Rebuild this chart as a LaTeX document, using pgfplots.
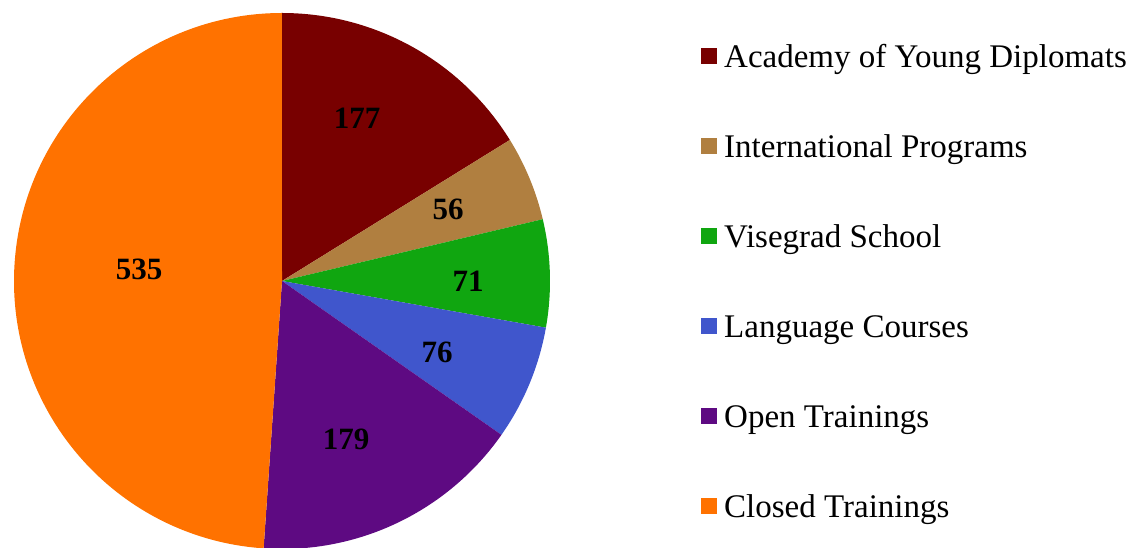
\documentclass[border=0pt]{standalone}
\usepackage{pgfplots}
\usepackage{pgfplotstable}
\pgfplotsset{compat=1.18}
\usepackage{fontspec}
\setmainfont{Liberation Serif}

\definecolor{c0}{RGB}{120,0,0}
\definecolor{c1}{RGB}{176,127,64}
\definecolor{c2}{RGB}{16,166,16}
\definecolor{c3}{RGB}{64,86,204}
\definecolor{c4}{RGB}{94,10,130}
\definecolor{c5}{RGB}{255,114,0}

\pgfplotstableread{
idx value
0 177
1 56
2 71
3 76
4 179
5 535
}\piedata

\begin{document}
\begin{tikzpicture}
\useasboundingbox (0,0) rectangle (1136pt,548pt);
% cumulative angles (clockwise from top)
\def\total{0}
\pgfplotsforeachungrouped \i in {0,...,5}{%
  \pgfplotstablegetelem{\i}{value}\of\piedata
  \pgfmathsetmacro\total{\total+\pgfplotsretval}%
}
\def\cur{90}
\pgfplotsforeachungrouped \i in {0,...,5}{%
  \pgfplotstablegetelem{\i}{value}\of\piedata
  \pgfmathsetmacro\nxt{\cur-(\pgfplotsretval/\total)*360}%
  \expandafter\xdef\csname sA\i\endcsname{\cur}%
  \expandafter\xdef\csname eA\i\endcsname{\nxt}%
  \global\let\cur\nxt
}
\begin{axis}[
  at={(0,0)}, anchor=south west,
  width=1136pt, height=548pt, scale only axis,
  xmin=0, xmax=1136, ymin=0, ymax=548,
  hide axis, clip=false,
  legend image code/.code={\fill[#1] (0pt,3pt) rectangle (16pt,19pt);},
  legend style={
    at={(axis cs:701,503)}, anchor=north west,
    draw=none, fill=none, inner sep=0pt,
    row sep=62pt, column sep=7pt,
    font=\fontsize{33}{38}\selectfont,
    nodes={inner sep=0pt, text height=22pt, text depth=6pt},
    cells={anchor=base west},
  },
]
\pgfplotsinvokeforeach{0,...,5}{%
  \fill[c#1] (axis cs:282,267) -- ++(\csname sA#1\endcsname:268pt)
    arc[start angle=\csname sA#1\endcsname, end angle=\csname eA#1\endcsname, radius=268pt] -- cycle;
}
\addlegendimage{fill=c0, draw=none}\addlegendentry{Academy of Young Diplomats}
\addlegendimage{fill=c1, draw=none}\addlegendentry{International Programs}
\addlegendimage{fill=c2, draw=none}\addlegendentry{Visegrad School}
\addlegendimage{fill=c3, draw=none}\addlegendentry{Language Courses}
\addlegendimage{fill=c4, draw=none}\addlegendentry{Open Trainings}
\addlegendimage{fill=c5, draw=none}\addlegendentry{Closed Trainings}
\begin{scope}[every node/.style={font=\bfseries\fontsize{31}{31}\selectfont, text=black}]
\node at (axis cs:357,430) {177};
\node at (axis cs:448,339) {56};
\node at (axis cs:468,267) {71};
\node at (axis cs:437,196) {76};
\node at (axis cs:346,109) {179};
\node at (axis cs:139,279) {535};
\end{scope}
\end{axis}
\end{tikzpicture}
\end{document}
